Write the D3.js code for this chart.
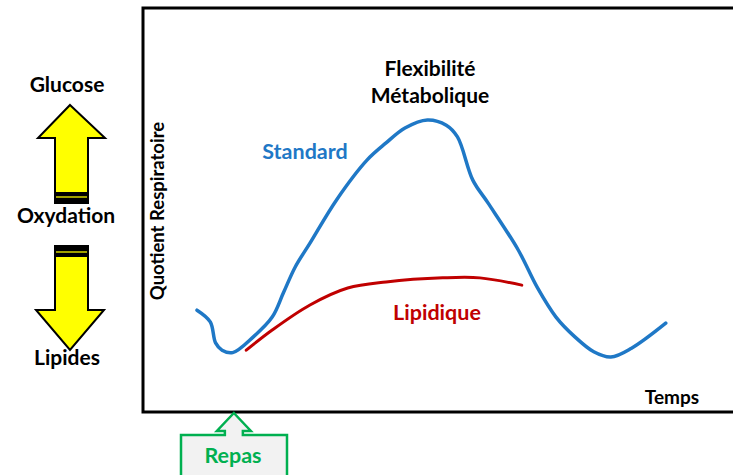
<!DOCTYPE html>
<html><head><meta charset="utf-8">
<script src="https://cdn.jsdelivr.net/npm/d3@7"></script>
<style>html,body{margin:0;padding:0;background:#fff;}svg{display:block;}</style>
</head><body>
<svg id="c" width="733" height="475"></svg>
<script>
// Data (time in arbitrary units 0-100, respiratory quotient in arbitrary units 0-100)
const standardTime = [9.15,11.4,12.3,13.4,15.2,18.7,21.9,23.8,25.8,28.3,32.8,38.0,41.2,44.4,48.2,51.4,53.3,55.9,58.5,63.6,66.8,70.0,73.2,76.4,79.3,82.8,88.6];
const standardRQ   = [25.2,22.3,17.1,15.3,14.7,18.6,23.5,29.5,35.9,41.8,52.5,62.4,66.6,70.3,72.3,71.0,68.1,57.4,51.7,40.1,30.9,23.5,18.6,14.9,13.6,15.8,22.0];
const lipidTime = [17.5,21.9,28.3,34.7,41.2,50.8,57.1,64.2];
const lipidRQ   = [15.3,20.3,26.5,30.7,32.2,33.2,33.2,31.4];
const labels = {title1:"Flexibilité", title2:"Métabolique", standard:"Standard", lipid:"Lipidique", x:"Temps", y:"Quotient Respiratoire", up:"Glucose", mid:"Oxydation", down:"Lipides", meal:"Repas"};
const mealTime = 15.4;

const svg = d3.select("#c");
const F = "Lato, 'Open Sans', sans-serif";
const x = d3.scaleLinear().domain([0,100]).range([143,733]);
const y = d3.scaleLinear().domain([0,100]).range([412,8]);

// frame
svg.append("path").attr("d",`M${x(100)},${y(100)} H${x(0)} V${y(0)} H${x(100)}`)
  .attr("fill","none").attr("stroke","#000").attr("stroke-width",3);

const line = d3.line().x(d=>x(d[0])).y(d=>y(d[1])).curve(d3.curveCatmullRom.alpha(0.5));
svg.append("path").datum(lipidTime.map((t,i)=>[t,lipidRQ[i]])).attr("d",line)
  .attr("fill","none").attr("stroke","#c00000").attr("stroke-width",3).attr("stroke-linecap","round");
svg.append("path").datum(standardTime.map((t,i)=>[t,standardRQ[i]])).attr("d",line)
  .attr("fill","none").attr("stroke","#1f78c6").attr("stroke-width",3.5).attr("stroke-linecap","round");

const txt=(s,px,py,size,col,anchor="middle")=>svg.append("text").attr("x",px).attr("y",py)
  .attr("text-anchor",anchor).attr("font-family",F).attr("font-weight","bold").attr("font-size",size)
  .attr("fill",col).text(s);
txt(labels.title1,430,76,21,"#000");
txt(labels.title2,430,103,21,"#000");
txt(labels.standard,305,159,21.5,"#1f78c6");
txt(labels.lipid,437,320,21.5,"#c00000");
txt(labels.x,672,404,19,"#000");
svg.append("text").attr("transform","translate(164,211) rotate(-90)").attr("text-anchor","middle")
  .attr("font-family",F).attr("font-weight","bold").attr("font-size",18.5).text(labels.y);

// left arrows
txt(labels.up,67,92,21,"#000");
txt(labels.mid,66,223,21,"#000");
txt(labels.down,67,365,21,"#000");
const up = `M70,105 L105,138 L88,138 L88,203 L55,203 L55,138 L38,138 Z`;
svg.append("path").attr("d",up).attr("fill","#ffff00").attr("stroke","#000").attr("stroke-width",2).attr("stroke-linejoin","miter");
svg.append("rect").attr("x",55).attr("y",192).attr("width",33).attr("height",11).attr("fill","#000");
svg.append("rect").attr("x",56).attr("y",196).attr("width",31).attr("height",2).attr("fill","#a0a000");
const down = `M55,246 L88,246 L88,310 L104,310 L70,350 L36,310 L55,310 Z`;
svg.append("path").attr("d",down).attr("fill","#ffff00").attr("stroke","#000").attr("stroke-width",2);
svg.append("rect").attr("x",55).attr("y",246).attr("width",33).attr("height",11).attr("fill","#000");
svg.append("rect").attr("x",56).attr("y",251).attr("width",31).attr("height",2).attr("fill","#a0a000");

// meal callout
const mx = x(mealTime);
const callout = `M${mx},413 L${mx+17},431 L${mx+9},431 L${mx+9},435 L287,435 L287,480 L181,480 L181,435 L${mx-9},435 L${mx-9},431 L${mx-17},431 Z`;
svg.append("path").attr("d",callout).attr("fill","#f2f2f2").attr("stroke","#00b050").attr("stroke-width",2.5);
txt(labels.meal,233,463,21.5,"#00b050");
</script>
</body></html>
